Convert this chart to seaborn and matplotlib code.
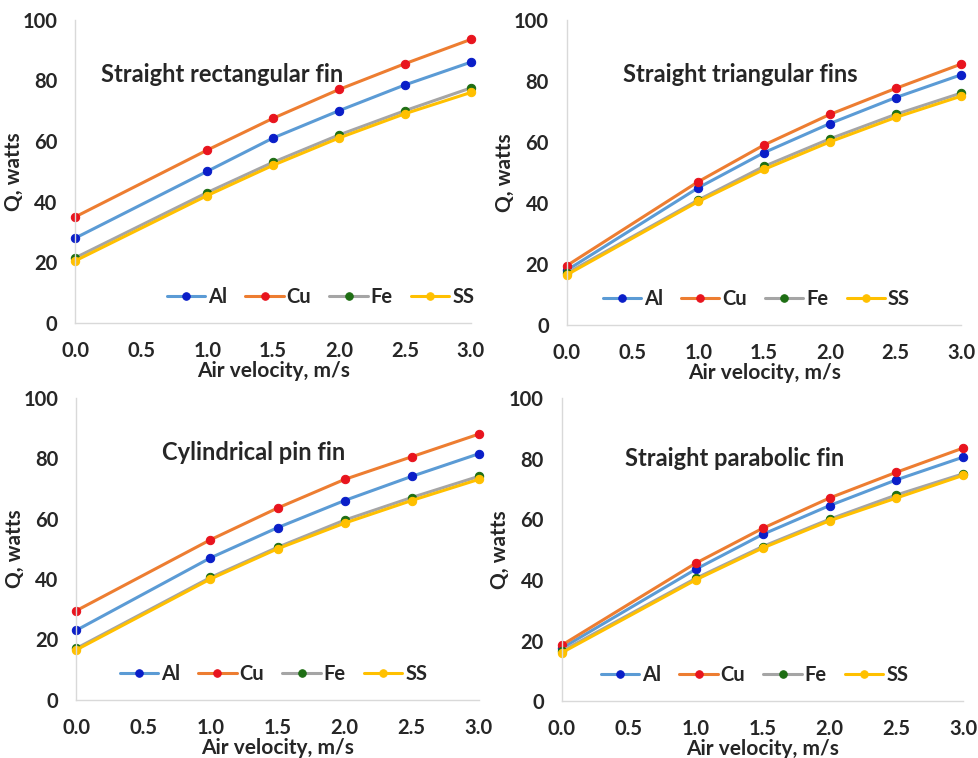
import numpy as np
import pandas as pd
import matplotlib
matplotlib.use("Agg")
import matplotlib.pyplot as plt
import seaborn as sns

# Air velocity, m/s
velocity = [0.0, 1.0, 1.5, 2.0, 2.5, 3.0]
metals = ["Al", "Cu", "Fe", "SS"]

# Heat transfer Q (watts) per fin type
rect_al = [28, 50, 61, 70, 78.5, 86]
rect_cu = [35, 57, 67.5, 77, 85.5, 93.5]
rect_fe = [21.5, 43, 53, 62, 70, 77.5]
rect_ss = [20.5, 42, 52, 61, 69, 76]

tri_al = [18, 45, 56.5, 66, 74.5, 82]
tri_cu = [19.5, 47, 59, 69, 77.5, 85.5]
tri_fe = [17, 41, 52, 61, 69, 76]
tri_ss = [16.5, 40.5, 51, 60, 68, 75]

cyl_al = [23, 47, 57, 66, 74, 81.5]
cyl_cu = [29.5, 53, 63.5, 73, 80.5, 88]
cyl_fe = [17, 40.5, 50.5, 59.5, 67, 74]
cyl_ss = [16.5, 40, 50, 58.5, 66, 73]

para_al = [17.5, 43.5, 55, 64.5, 73, 80.5]
para_cu = [18.5, 45.5, 57, 67, 75.5, 83.5]
para_fe = [16.5, 40.5, 51, 60, 68, 75]
para_ss = [16, 40, 50.5, 59.5, 67, 74.5]

titles = ["Straight rectangular fin", "Straight triangular fins",
          "Cylindrical pin fin", "Straight parabolic fin"]

line_colors = {"Al": "#5B9BD5", "Cu": "#ED7D31", "Fe": "#A5A5A5", "SS": "#FFC000"}
marker_colors = {"Al": "#0A1EC8", "Cu": "#E8141E", "Fe": "#1E6E14", "SS": "#FFC000"}

sns.set_style("white")
plt.rcParams["font.family"] = ["Lato", "DejaVu Sans"]
plt.rcParams["font.weight"] = "bold"


def make_df(al, cu, fe, ss):
    rows = []
    for metal, vals in zip(metals, [al, cu, fe, ss]):
        for v, q in zip(velocity, vals):
            rows.append({"velocity": v, "Q": q, "metal": metal})
    return pd.DataFrame(rows)


panels = [
    make_df(rect_al, rect_cu, rect_fe, rect_ss),
    make_df(tri_al, tri_cu, tri_fe, tri_ss),
    make_df(cyl_al, cyl_cu, cyl_fe, cyl_ss),
    make_df(para_al, para_cu, para_fe, para_ss),
]

# axes boxes in figure fractions [left, bottom, width, height]
boxes = [
    [0.077, 0.574, 0.404, 0.400],
    [0.579, 0.571, 0.403, 0.403],
    [0.078, 0.077, 0.411, 0.398],
    [0.574, 0.075, 0.410, 0.400],
]
title_pos = [(0.37, 0.82), (0.44, 0.82), (0.44, 0.82), (0.43, 0.80)]
legend_x = [0.62, 0.48, 0.49, 0.48]

fig = plt.figure(figsize=(9.79, 7.58), dpi=100)

for i, df in enumerate(panels):
    ax = fig.add_axes(boxes[i])
    for metal in metals:
        sub = df[df["metal"] == metal]
        sns.lineplot(data=sub, x="velocity", y="Q", ax=ax, color=line_colors[metal],
                     linewidth=2.2, marker="o", markersize=6,
                     markerfacecolor=marker_colors[metal],
                     markeredgecolor=marker_colors[metal], label=metal)
    ax.set_xlim(0, 3.0)
    ax.set_ylim(0, 100)
    ax.set_xticks(np.arange(0, 3.01, 0.5))
    ax.set_xticklabels([f"{t:.1f}" for t in np.arange(0, 3.01, 0.5)])
    ax.set_yticks(range(0, 101, 20))
    ax.tick_params(axis="both", length=0, labelsize=14.5)
    ax.tick_params(axis="x", pad=13)
    ax.tick_params(axis="y", pad=13)
    for lab in ax.get_xticklabels() + ax.get_yticklabels():
        lab.set_fontweight("bold")
    ax.set_xlabel("Air velocity, m/s", fontsize=15, fontweight="bold", labelpad=0)
    ax.set_ylabel("Q, watts", fontsize=15, fontweight="bold", labelpad=-1)
    for side in ["top", "right"]:
        ax.spines[side].set_visible(False)
    for side in ["left", "bottom"]:
        ax.spines[side].set_color("#D9D9D9")
        ax.spines[side].set_linewidth(1.0)
    ax.text(title_pos[i][0], title_pos[i][1], titles[i], transform=ax.transAxes,
            ha="center", va="center", fontsize=17, fontweight="bold")
    ax.legend(loc="center", bbox_to_anchor=(legend_x[i], 0.085), ncol=4, frameon=False,
              handlelength=1.9, handletextpad=0.15, columnspacing=0.9, markerscale=0.9,
              prop={"weight": "bold", "size": 14.5})
    for line in ax.lines:
        line.set_clip_on(False)

fig.savefig("out.png", dpi=100)
